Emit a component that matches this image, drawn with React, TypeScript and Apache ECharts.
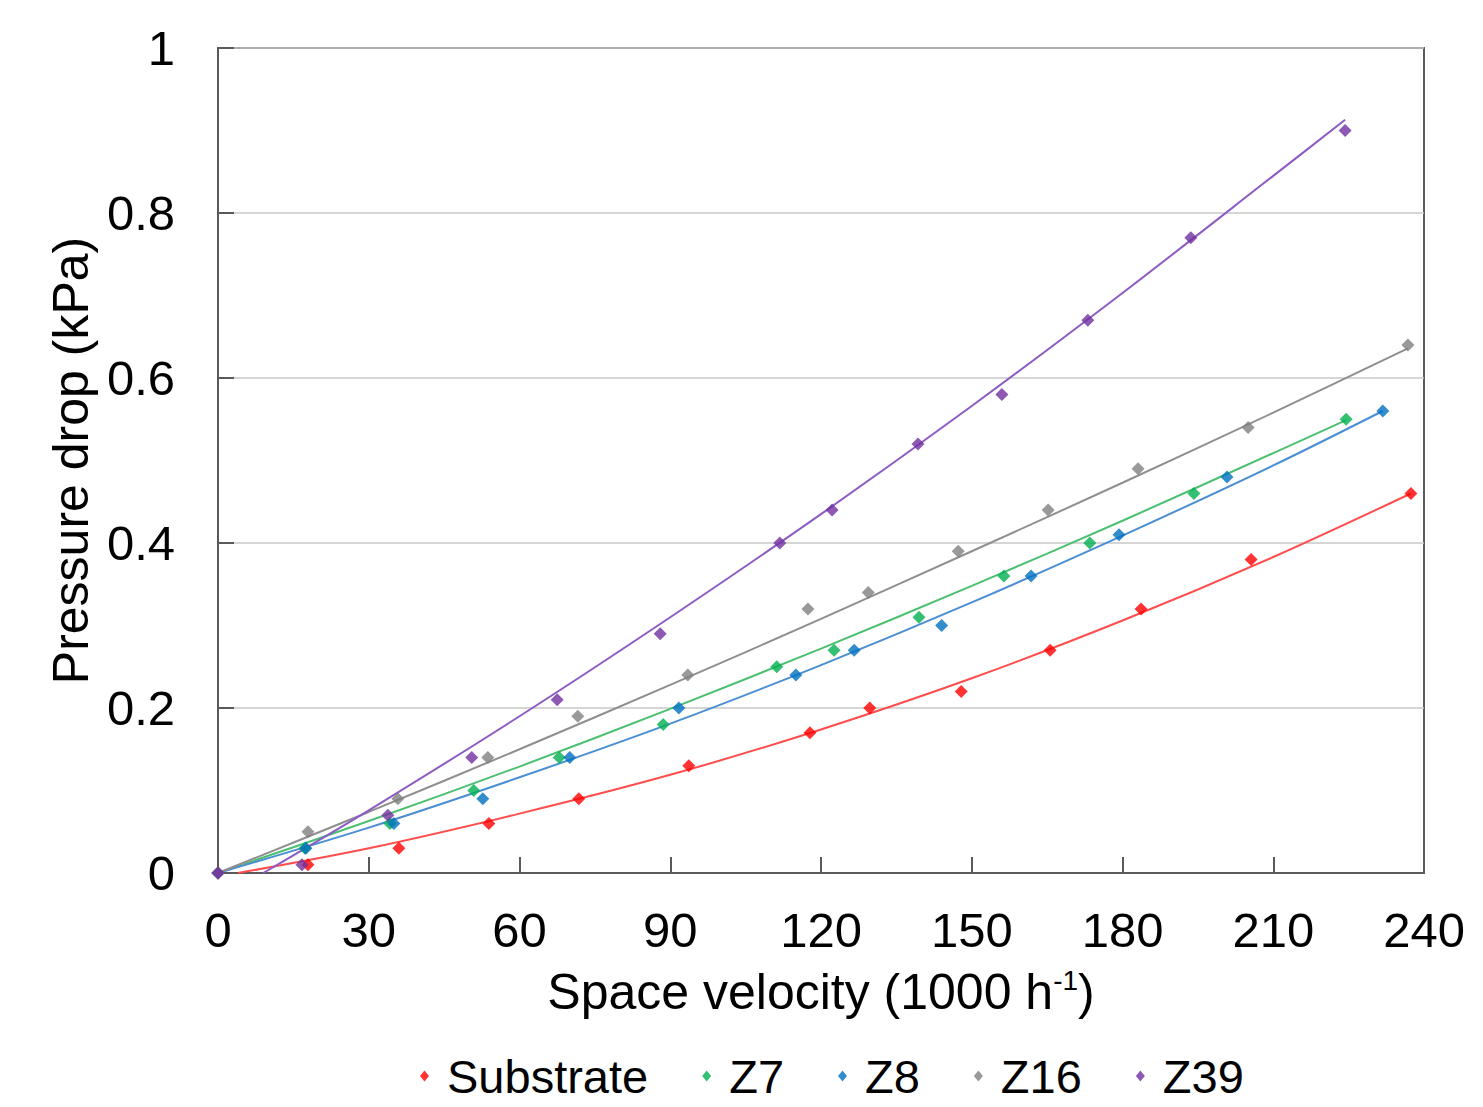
import React, { useEffect, useRef } from "react";
import * as echarts from "echarts";

const seriesNames = ["Substrate", "Z7", "Z8", "Z16", "Z39"];
const markerColors = ["#ff0000", "#00b050", "#0070c0", "#808080", "#7030a0"];
const lineColors = ["#ff4d4d", "#4cc070", "#4a8ed4", "#8f8f8f", "#8c5cc4"];

const xTicks = [0, 30, 60, 90, 120, 150, 180, 210, 240];
const yTicks = [0, 0.2, 0.4, 0.6, 0.8, 1];

// measured points [space velocity (1000 h-1), pressure drop (kPa)]
const substrate = [
  [0, 0], [17.9, 0.01], [36, 0.03], [53.9, 0.06], [71.8, 0.09], [93.7, 0.13], [117.8, 0.17],
  [129.7, 0.2], [147.9, 0.22], [165.6, 0.27], [183.7, 0.32], [205.6, 0.38], [237.4, 0.46],
];
const z7 = [
  [0, 0], [17.3, 0.03], [34.2, 0.06], [50.9, 0.1], [67.9, 0.14], [88.6, 0.18], [111.2, 0.25],
  [122.6, 0.27], [139.5, 0.31], [156.4, 0.36], [173.5, 0.4], [194.2, 0.46], [224.5, 0.55],
];
const z8 = [
  [0, 0], [17.5, 0.03], [35, 0.06], [52.7, 0.09], [70, 0.14], [91.7, 0.2], [115, 0.24],
  [126.6, 0.27], [144, 0.3], [161.8, 0.36], [179.3, 0.41], [200.8, 0.48], [231.8, 0.56],
];
const z16 = [
  [0, 0], [17.9, 0.05], [35.8, 0.09], [53.7, 0.14], [71.6, 0.19], [93.5, 0.24], [117.4, 0.32],
  [129.4, 0.34], [147.3, 0.39], [165.2, 0.44], [183.1, 0.49], [205, 0.54], [236.8, 0.64],
];
const z39 = [
  [0, 0], [16.7, 0.01], [33.8, 0.07], [50.5, 0.14], [67.5, 0.21], [88, 0.29], [111.8, 0.4],
  [122.2, 0.44], [139.3, 0.52], [156, 0.58], [173.1, 0.67], [193.6, 0.77], [224.3, 0.9],
];

// trend lines
const substrateTrend = [
  [4, 0], [30, 0.03], [60, 0.072], [90, 0.119], [120, 0.174], [150, 0.236], [180, 0.306], [210, 0.383], [237.4, 0.46],
];
const z7Trend = [
  [0, 0], [30, 0.063], [60, 0.129], [90, 0.199], [120, 0.272], [150, 0.348], [180, 0.427], [210, 0.509], [224.5, 0.549],
];
const z8Trend = [
  [0, 0], [30, 0.055], [60, 0.116], [90, 0.181], [120, 0.252], [150, 0.328], [180, 0.409], [210, 0.494], [231.8, 0.56],
];
const z16Trend = [
  [0, 0], [30, 0.074], [60, 0.15], [90, 0.228], [120, 0.308], [150, 0.39], [180, 0.473], [210, 0.558], [236.8, 0.636],
];
const z39Trend = [
  [9, 0], [30, 0.076], [60, 0.19], [90, 0.31], [120, 0.435], [150, 0.566], [180, 0.703], [210, 0.845], [224.3, 0.913],
];

const points = [substrate, z7, z8, z16, z39];
const trends = [substrateTrend, z7Trend, z8Trend, z16Trend, z39Trend];

const FONT = "'Liberation Sans', Arial, sans-serif";

export default function App() {
  const ref = useRef<HTMLDivElement>(null);
  useEffect(() => {
    document.body.style.margin = "0";
    if (!ref.current) return;
    const chart = echarts.init(ref.current, undefined, { renderer: "svg" });
    const trendSeries = trends.map((d, i) => ({
      name: seriesNames[i] + " trend",
      type: "line",
      data: d,
      smooth: 0.3,
      showSymbol: false,
      symbol: "none",
      silent: true,
      clip: true,
      lineStyle: { color: lineColors[i], width: 2 },
      z: 2,
    }));
    const scatterSeries = points.map((d, i) => ({
      name: seriesNames[i],
      type: "scatter",
      data: d,
      symbol: "diamond",
      symbolSize: 13,
      itemStyle: { color: markerColors[i] },
      z: 3 + i,
    }));
    chart.setOption({
      animation: false,
      backgroundColor: "#ffffff",
      textStyle: { fontFamily: FONT },
      grid: {
        left: 218,
        top: 48,
        width: 1206,
        height: 825,
        show: true,
        borderColor: "#595959",
        borderWidth: 2,
        backgroundColor: "transparent",
        containLabel: false,
        outerBoundsMode: "none",
      },
      legend: {
        data: seriesNames,
        top: 1052,
        left: 420,
        padding: 0,
        icon: "diamond",
        itemWidth: 9,
        itemHeight: 11,
        itemGap: 54,
        textStyle: {
          fontSize: 47,
          lineHeight: 48,
          color: "#000",
          fontFamily: FONT,
          padding: [0, 0, 0, 13],
        },
      },
      xAxis: {
        type: "value",
        min: xTicks[0],
        max: xTicks[xTicks.length - 1],
        interval: xTicks[1] - xTicks[0],
        name: "Space velocity (1000 h{sup|-1})",
        nameLocation: "middle",
        nameGap: 93,
        nameTextStyle: {
          fontSize: 50,
          color: "#000",
          fontFamily: FONT,
          rich: {
            sup: { fontSize: 28, color: "#000", fontFamily: FONT, padding: [0, 0, 24, 0] },
          },
        },
        axisLine: { show: true, lineStyle: { color: "#595959", width: 2 } },
        axisTick: { show: true, inside: true, length: 16, lineStyle: { color: "#595959", width: 2 } },
        axisLabel: { fontSize: 49, color: "#000", margin: 32, fontFamily: FONT },
        splitLine: { show: false },
      },
      yAxis: {
        type: "value",
        min: yTicks[0],
        max: yTicks[yTicks.length - 1],
        interval: yTicks[1] - yTicks[0],
        name: "Pressure drop (kPa)",
        nameLocation: "middle",
        nameGap: 118,
        nameTextStyle: { fontSize: 50, color: "#000", fontFamily: FONT },
        axisLine: { show: true, lineStyle: { color: "#595959", width: 2 } },
        axisTick: { show: true, inside: true, length: 16, lineStyle: { color: "#595959", width: 2 } },
        axisLabel: { fontSize: 49, color: "#000", margin: 43, fontFamily: FONT },
        splitLine: { show: true, lineStyle: { color: "#c8c8c8", width: 1.5 } },
      },
      series: [...trendSeries, ...scatterSeries],
    });
    return () => chart.dispose();
  }, []);
  return <div ref={ref} style={{ width: 1483, height: 1107 }} />;
}
